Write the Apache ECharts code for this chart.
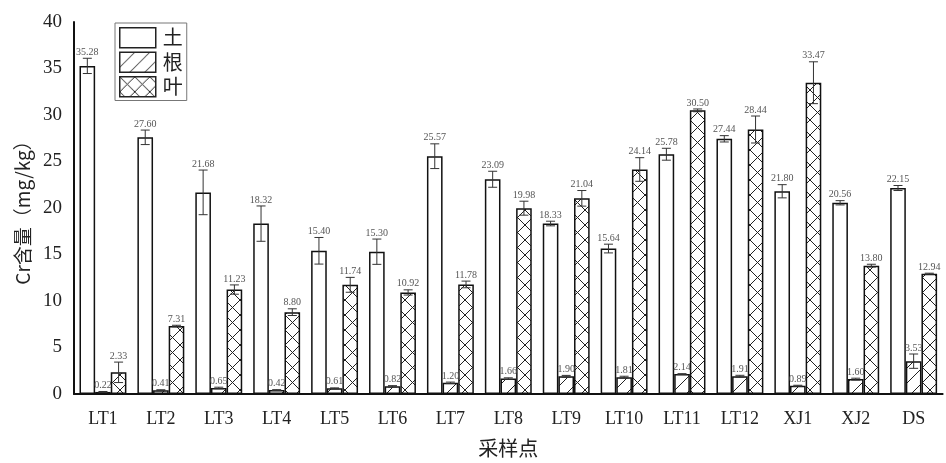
<!DOCTYPE html>
<html>
<head>
<meta charset="utf-8">
<script src="https://cdn.jsdelivr.net/npm/echarts@6/dist/echarts.min.js"></script>
<style>
  html, body { margin: 0; padding: 0; background: #fff; }
  #chart { width: 946px; height: 463px; }
</style>
</head>
<body>
<div id="chart"></div>
<script>
// Sampling sites
const sites = ['LT1', 'LT2', 'LT3', 'LT4', 'LT5', 'LT6', 'LT7', 'LT8', 'LT9', 'LT10', 'LT11', 'LT12', 'XJ1', 'XJ2', 'DS'];

// Cr content (mg/kg) in soil, root and leaf
const soil = [35.28, 27.60, 21.68, 18.32, 15.40, 15.30, 25.57, 23.09, 18.33, 15.64, 25.78, 27.44, 21.80, 20.56, 22.15];
const root = [0.22, 0.41, 0.65, 0.42, 0.61, 0.82, 1.20, 1.66, 1.90, 1.81, 2.14, 1.91, 0.89, 1.60, 3.53];
const leaf = [2.33, 7.31, 11.23, 8.80, 11.74, 10.92, 11.78, 19.98, 21.04, 24.14, 30.50, 28.44, 33.47, 13.80, 12.94];

// Standard deviations
const soilErr = [0.82, 0.78, 2.40, 1.90, 1.43, 1.36, 1.33, 0.86, 0.25, 0.47, 0.64, 0.34, 0.71, 0.23, 0.27];
const rootErr = [0.05, 0.05, 0.08, 0.05, 0.05, 0.08, 0.08, 0.08, 0.10, 0.10, 0.05, 0.10, 0.05, 0.10, 0.77];
const leafErr = [1.10, 0.08, 0.50, 0.36, 0.80, 0.28, 0.36, 0.75, 0.84, 1.27, 0.15, 1.45, 2.25, 0.15, 0.05];

const seriesNames = ['土', '根', '叶'];

const serif = '"Liberation Serif", "DejaVu Serif", "Noto Sans CJK SC", serif';
const cjk = '"Noto Sans CJK SC", "Liberation Serif", serif';

// Hatch fills
function makeTile(kind) {
  const s = 15;
  const c = document.createElement('canvas');
  c.width = s; c.height = s;
  const g = c.getContext('2d');
  g.fillStyle = '#fff';
  g.fillRect(0, 0, s, s);
  g.strokeStyle = '#222';
  g.lineWidth = 1;
  g.beginPath();
  // "/" lines, including neighbour fragments so the tile repeats seamlessly
  for (let k = -1; k <= 1; k++) {
    g.moveTo(k * s - 1, s + 1);
    g.lineTo(k * s + s + 1, -1);
  }
  if (kind === 'cross') {
    for (let k = -1; k <= 1; k++) {
      g.moveTo(k * s - 1, -1);
      g.lineTo(k * s + s + 1, s + 1);
    }
  }
  g.stroke();
  return c;
}
const slashFill = { image: makeTile('slash'), repeat: 'repeat' };
const crossFill = { image: makeTile('cross'), repeat: 'repeat' };

const catGap = 0.19;           // barCategoryGap as a fraction
const groupCount = 3;

function barSeries(name, values, fill) {
  return {
    name: name,
    type: 'bar',
    data: values,
    barGap: '0%',
    barCategoryGap: (catGap * 100) + '%',
    itemStyle: { color: fill, borderColor: '#111', borderWidth: 1.5 },
    z: 2
  };
}

// Error bars with the value written above each bar
function errSeries(values, errs, slot) {
  return {
    type: 'custom',
    name: 'err' + slot,
    data: values.map((v, i) => [i, v, errs[i]]),
    encode: { x: 0, y: 1 },
    z: 5,
    silent: true,
    renderItem: function (params, api) {
      const i = api.value(0), v = api.value(1), e = api.value(2);
      const band = api.size([1, 0])[0];
      const bw = band * (1 - catGap) / groupCount;
      const base = api.coord([i, v]);
      const x = base[0] + (slot - 1) * bw;
      const yTop = api.coord([i, v + e])[1];
      const yBot = api.coord([i, Math.max(v - e, 0)])[1];
      const cap = 4.5;
      const st = { stroke: '#333', lineWidth: 1 };
      return {
        type: 'group',
        children: [
          { type: 'line', shape: { x1: x, y1: yTop, x2: x, y2: yBot }, style: st },
          { type: 'line', shape: { x1: x - cap, y1: yTop, x2: x + cap, y2: yTop }, style: st },
          { type: 'line', shape: { x1: x - cap, y1: yBot, x2: x + cap, y2: yBot }, style: st },
          {
            type: 'text',
            style: {
              x: x, y: yTop - 1,
              text: v.toFixed(2),
              align: 'center', verticalAlign: 'bottom',
              fill: '#555', font: '10px ' + serif
            }
          }
        ]
      };
    }
  };
}

const chart = echarts.init(document.getElementById('chart'), null, { renderer: 'canvas' });
chart.setOption({
  backgroundColor: '#fff',
  animation: false,
  grid: { left: 74, right: 3.4, top: 22, bottom: 68, containLabel: false },
  legend: {
    data: seriesNames,
    orient: 'vertical',
    left: 115, top: 23,
    padding: [4, 4, 3, 4],
    itemWidth: 36, itemHeight: 20, itemGap: 3,
    borderColor: '#777', borderWidth: 1,
    icon: 'rect',
    itemStyle: { borderColor: '#222', borderWidth: 1.5 },
    textStyle: { fontFamily: cjk, fontSize: 20, color: '#222', padding: [0, 0, 0, 2] }
  },
  xAxis: {
    type: 'category',
    data: sites,
    name: '采样点',
    nameLocation: 'middle',
    nameGap: 44,
    nameTextStyle: { fontFamily: cjk, fontSize: 20, color: '#222' },
    axisLine: { lineStyle: { color: '#111', width: 2 } },
    axisTick: { show: false },
    axisLabel: { fontFamily: serif, fontSize: 18, color: '#222', margin: 16 }
  },
  yAxis: {
    type: 'value',
    min: 0, max: 40, interval: 5,
    name: 'Cr含量（mg/kg）',
    nameLocation: 'middle',
    nameGap: 42,
    nameTextStyle: { fontFamily: cjk, fontSize: 19, color: '#222' },
    axisLine: { show: true, lineStyle: { color: '#111', width: 2 } },
    axisTick: { show: false },
    splitLine: { show: false },
    axisLabel: { fontFamily: serif, fontSize: 19, color: '#222', margin: 12 }
  },
  series: [
    barSeries(seriesNames[0], soil, '#fff'),
    barSeries(seriesNames[1], root, slashFill),
    barSeries(seriesNames[2], leaf, crossFill),
    errSeries(soil, soilErr, 0),
    errSeries(root, rootErr, 1),
    errSeries(leaf, leafErr, 2)
  ]
});
</script>
</body>
</html>
